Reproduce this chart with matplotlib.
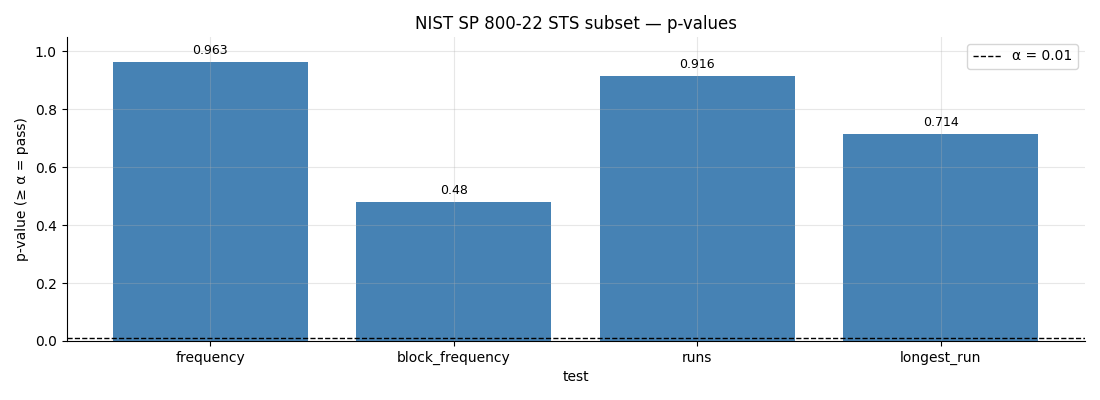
import matplotlib
matplotlib.use("Agg")
import matplotlib.pyplot as plt

tests = ["frequency", "block_frequency", "runs", "longest_run"]
p_values = [0.963, 0.48, 0.916, 0.714]
alpha = 0.01

fig, ax = plt.subplots(figsize=(11, 4), dpi=100)
fig.subplots_adjust(left=0.0605, right=0.986, top=0.9075, bottom=0.1475)

bars = ax.bar(tests, p_values, color="steelblue", width=0.8)
for b, v in zip(bars, p_values):
    ax.text(b.get_x() + b.get_width() / 2, v + 0.018, f"{v:g}",
            ha="center", va="bottom", fontsize=9)

ax.axhline(alpha, color="black", linestyle="--", linewidth=1, label="α = 0.01")
ax.set_ylim(0, 1.05)
ax.set_xlabel("test")
ax.set_ylabel("p-value (≥ α = pass)")
ax.set_title("NIST SP 800-22 STS subset — p-values")
ax.grid(True, alpha=0.3)
ax.spines["top"].set_visible(False)
ax.spines["right"].set_visible(False)
ax.legend(loc="upper right")

fig.savefig("out.png", dpi=100)
